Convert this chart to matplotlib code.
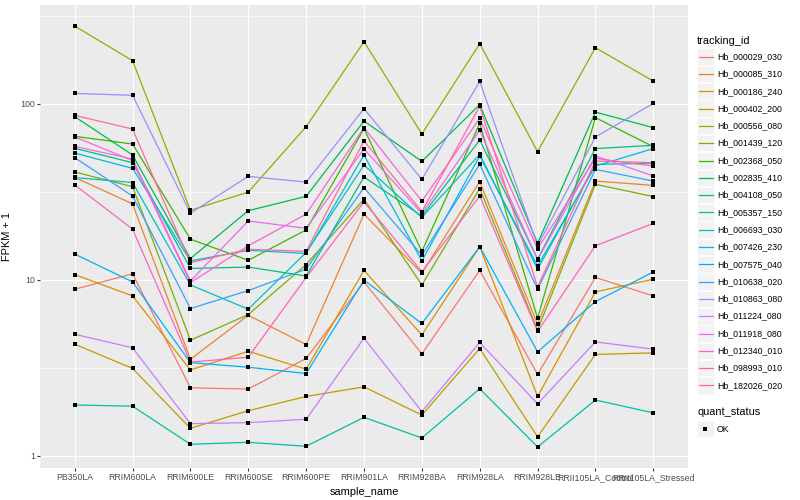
import numpy as np
import matplotlib
matplotlib.use("Agg")
import matplotlib.pyplot as plt
from matplotlib.patches import Rectangle
from matplotlib.lines import Line2D

plt.rcParams['font.family'] = ['Liberation Sans', 'DejaVu Sans']

samples = ["PB350LA", "RRIM600LA", "RRIM600LE", "RRIM600SE", "RRIM600PE",
           "RRIM901LA", "RRIM928BA", "RRIM928LA", "RRIM928LE",
           "RRII105LA_Control", "RRII105LA_Stressed"]

# FPKM + 1 per sample
Hb_000029_030 = [8.83, 10.8, 2.43, 2.39, 3.57, 9.72, 3.79, 11.3, 2.90, 10.3, 8.09]
Hb_000085_310 = [38.2, 27.0, 3.53, 6.28, 4.28, 23.6, 10.9, 36.1, 5.59, 36.4, 34.4]
Hb_000186_240 = [10.7, 8.09, 3.07, 3.92, 3.10, 11.3, 4.86, 15.4, 2.17, 8.53, 10.07]
Hb_000402_200 = [4.30, 3.13, 1.43, 1.80, 2.17, 2.46, 1.70, 4.06, 1.28, 3.76, 3.84]
Hb_000556_080 = [277, 176, 24.8, 31.5, 74.2, 225.6, 67.4, 219.8, 53.5, 208.6, 134.7]
Hb_001439_120 = [41.0, 33.8, 4.53, 6.34, 12.2, 28.7, 9.34, 33.0, 5.18, 34.9, 29.7]
Hb_002368_050 = [65.4, 59.1, 17.0, 12.9, 19.2, 72.3, 14.5, 77.5, 6.04, 83.5, 57.1]
Hb_002835_410 = [84.6, 51.2, 13.2, 24.7, 29.8, 79.8, 47.1, 99.0, 16.1, 89.8, 73.2]
Hb_004108_050 = [55.9, 46.3, 11.6, 11.8, 10.5, 38.4, 23.0, 62.3, 13.1, 55.7, 58.1]
Hb_005357_150 = [1.94, 1.91, 1.16, 1.19, 1.13, 1.65, 1.26, 2.40, 1.12, 2.07, 1.75]
Hb_006693_030 = [38.1, 35.7, 9.34, 6.80, 14.3, 44.9, 22.6, 51.6, 11.5, 45.3, 45.9]
Hb_007426_230 = [52.5, 43.0, 12.8, 14.7, 14.1, 51.2, 12.8, 50.5, 12.0, 44.3, 55.7]
Hb_007575_040 = [14.0, 9.72, 3.38, 3.18, 2.93, 9.94, 5.64, 15.4, 3.89, 7.52, 11.07]
Hb_010638_020 = [49.5, 29.9, 6.86, 8.68, 11.5, 33.4, 13.8, 45.3, 8.83, 42.4, 36.4]
Hb_010863_080 = [114.7, 111.8, 23.9, 38.7, 35.9, 93.9, 37.2, 134.2, 15.6, 64.8, 100.6]
Hb_011224_080 = [4.90, 4.10, 1.52, 1.54, 1.61, 4.65, 1.78, 4.40, 1.97, 4.43, 4.03]
Hb_011918_080 = [57.3, 48.6, 9.84, 21.6, 19.6, 55.4, 23.8, 70.7, 13.0, 50.5, 38.9]
Hb_012340_010 = [64.9, 47.6, 9.64, 15.6, 23.6, 73.2, 28.0, 82.7, 15.0, 49.0, 44.3]
Hb_098993_010 = [34.6, 19.4, 3.40, 3.63, 10.3, 27.7, 11.1, 29.9, 5.08, 15.6, 20.9]
Hb_182026_020 = [86.0, 71.9, 12.5, 14.9, 14.5, 61.5, 24.4, 96.8, 9.10, 47.3, 46.3]

tracking_ids = ["Hb_000029_030", "Hb_000085_310", "Hb_000186_240", "Hb_000402_200",
                "Hb_000556_080", "Hb_001439_120", "Hb_002368_050", "Hb_002835_410",
                "Hb_004108_050", "Hb_005357_150", "Hb_006693_030", "Hb_007426_230",
                "Hb_007575_040", "Hb_010638_020", "Hb_010863_080", "Hb_011224_080",
                "Hb_011918_080", "Hb_012340_010", "Hb_098993_010", "Hb_182026_020"]
series = [Hb_000029_030, Hb_000085_310, Hb_000186_240, Hb_000402_200,
          Hb_000556_080, Hb_001439_120, Hb_002368_050, Hb_002835_410,
          Hb_004108_050, Hb_005357_150, Hb_006693_030, Hb_007426_230,
          Hb_007575_040, Hb_010638_020, Hb_010863_080, Hb_011224_080,
          Hb_011918_080, Hb_012340_010, Hb_098993_010, Hb_182026_020]
quant_status = ["OK"]

colors = ["#F8766D", "#EA8331", "#D89000", "#C09B00", "#A3A500", "#7CAE00",
          "#39B600", "#00BB4E", "#00BF7D", "#00C1A3", "#00BFC4", "#00BAE0",
          "#00B0F6", "#35A2FF", "#9590FF", "#C77CFF", "#E76BF3", "#FA62DB",
          "#FF62BC", "#FF6A98"]

W, H = 800, 500
fig = plt.figure(figsize=(W / 100, H / 100), dpi=100)
fig.patch.set_facecolor("white")

L, R, T, B = 40, 688, 5, 468
ax = fig.add_axes([L / W, 1 - B / H, (R - L) / W, (B - T) / H])
ax.set_facecolor("#EBEBEB")
for s in ax.spines.values():
    s.set_visible(False)

x = np.arange(len(samples))
for vals, c in zip(series, colors):
    ax.plot(x, vals, color=c, lw=0.9, zorder=3, solid_capstyle="butt")
for vals in series:
    ax.plot(x, vals, ls="none", marker="s", ms=2.3, mew=0, color="black", zorder=4)

ax.set_yscale("log")
allv = np.log10(np.concatenate([np.asarray(v, float) for v in series]))
lo, hi = allv.min(), allv.max()
pad = (hi - lo) * 0.05
ax.set_ylim(10 ** (lo - pad), 10 ** (hi + pad))
ax.set_xlim(-0.6, len(samples) - 1 + 0.6)

ax.set_yticks([1, 10, 100])
ax.set_yticklabels(["1", "10", "100"])
ax.set_yticks([10 ** 0.5, 10 ** 1.5, 10 ** 2.5], minor=True)
ax.yaxis.set_minor_formatter(matplotlib.ticker.NullFormatter())
ax.set_xticks(x)
ax.set_xticklabels(samples)

ax.grid(which="major", color="white", lw=0.8, zorder=1)
ax.grid(which="minor", axis="y", color="white", lw=0.4, zorder=1)
ax.set_axisbelow(True)
ax.tick_params(which="major", length=2.0, width=0.8, color="#333333",
               labelsize=6.34, labelcolor="#4D4D4D", pad=1.6)
ax.tick_params(which="minor", length=0)

ax.set_xlabel("sample_name", fontsize=7.92, color="black")
ax.set_ylabel("FPKM + 1", fontsize=7.92, color="black")
ax.xaxis.set_label_coords(0.5, (B - 487) / (B - T))
ax.yaxis.set_label_coords((12 - L) / (R - L), 0.5)


def fx(px):
    return px / W


def fy(py):
    return 1 - py / H


# legend: tracking_id
fig.text(fx(697), fy(40.7), "tracking_id", fontsize=7.92, va="center", ha="left")
step = 17.3
ks = 16.6
for i, (name, c) in enumerate(zip(tracking_ids, colors)):
    yc = 56.7 + i * step
    fig.add_artist(Rectangle((fx(697), fy(yc + ks / 2)), ks / W, ks / H,
                             transform=fig.transFigure, facecolor="#F2F2F2",
                             edgecolor="white", lw=0.5))
    fig.add_artist(Line2D([fx(698.5), fx(712.5)], [fy(yc), fy(yc)],
                          transform=fig.transFigure, color=c, lw=0.9))
    fig.text(fx(717), fy(yc), name, fontsize=6.34, va="center", ha="left")

# legend: quant_status
fig.text(fx(697), fy(412.3), "quant_status", fontsize=7.92, va="center", ha="left")
for j, q in enumerate(quant_status):
    yc = 429 + j * step
    fig.add_artist(Rectangle((fx(697), fy(yc + ks / 2)), ks / W, ks / H,
                             transform=fig.transFigure, facecolor="#F2F2F2",
                             edgecolor="white", lw=0.5))
    fig.add_artist(Line2D([fx(705.3)], [fy(yc)], transform=fig.transFigure,
                          ls="none", marker="s", ms=2.3, mew=0, color="black"))
    fig.text(fx(717), fy(yc), q, fontsize=6.34, va="center", ha="left")

fig.savefig("out.png", dpi=100)
